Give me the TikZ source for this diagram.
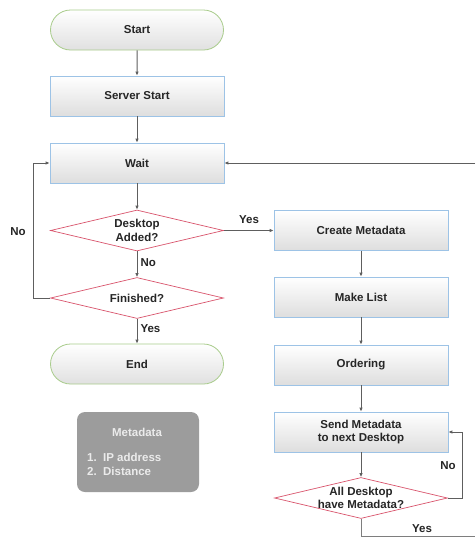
\documentclass[tikz,border=0pt]{standalone}
\usepackage{fontspec}
\setmainfont{Liberation Sans}
\usetikzlibrary{shapes.geometric,shapes.misc,arrows.meta}
\definecolor{termline}{HTML}{A9CC8C}
\definecolor{boxline}{HTML}{9DC3E6}
\definecolor{dialine}{HTML}{D9546C}
\definecolor{conn}{HTML}{5E5E5E}
\definecolor{metafill}{HTML}{9C9C9C}
\tikzset{
  base/.style={font=\bfseries\fontsize{11.5}{13.5}\selectfont, text=black!85, align=center, inner sep=0pt},
  term/.style={base, rounded rectangle, minimum width=173pt, minimum height=40pt, draw=termline, line width=0.8pt, top color=white, bottom color=black!12},
  proc/.style={base, rectangle, minimum width=174pt, minimum height=40pt, draw=boxline, line width=0.7pt, top color=white, bottom color=black!13},
  deci/.style={diamond, aspect=4.2, inner sep=0pt, minimum width=173pt, minimum height=41pt, draw=dialine, line width=0.7pt, fill=white},
  conn/.style={draw=conn, line width=1pt, -{Latex[length=4pt,width=3.5pt]}},
  plain/.style={draw=conn!80, line width=1pt},
  lbl/.style={font=\bfseries\fontsize{11.5}{13.5}\selectfont, text=black!85, inner sep=0pt},
}
\begin{document}
\begin{tikzpicture}[x=1pt,y=-1pt]
\useasboundingbox (0,0) rectangle (475,539);
\fill[white] (0,0) rectangle (475,539);
% left column
\node[term] (start) at (137,30) {Start};
\node[proc] (server) at (137,96) {Server Start};
\node[proc] (wait) at (137,163) {Wait};
\node[deci] (added) at (137,230.5) {};
\node[base] (addedt) at (added) {Desktop\\Added?};
\node[deci] (fin) at (137,298) {};
\node[base] (fint) at (fin) {Finished?};
\node[term] (end) at (137,364) {End};
% right column
\node[proc] (create) at (361,230.5) {Create Metadata};
\node[proc] (list) at (361,297) {Make List};
\node[proc] (order) at (361,365) {Ordering};
\node[proc] (send) at (361,432) {Send Metadata\\to next Desktop};
\node[deci] (all) at (361,498) {};
\node[base] (allt) at (all) {All Desktop\\have Metadata?};
% metadata box
\node[rounded corners=8pt, fill=metafill, minimum width=122pt, minimum height=80pt] (meta) at (138,452) {};
\node[lbl, text=white!92!black] (metat) at (137,432) {Metadata};
\node[lbl, text=white!92!black, align=left, anchor=north west] (metal) at (87,453) {1.\ \ IP address\\2.\ \ Distance};
% coordinates
\coordinate (rtop) at (475,163);
\coordinate (rbot) at (475,536);
\coordinate (lc) at (33,298);
\coordinate (lw) at (33,163);
\coordinate (nr) at (462,498);
\coordinate (ns) at (462,432);
\coordinate (yb) at (361,536);
% connectors
\draw[conn] (start) -- (server);
\draw[conn] (server) -- (wait);
\draw[conn] (wait) -- (added);
\draw[conn] (added) -- node[lbl, right=3pt, pos=0.45] {No} (fin);
\draw[conn] (fin) -- node[lbl, right=3pt, pos=0.4] {Yes} (end);
\draw[conn] (fin.west) -- (lc) -- (lw) -- (wait.west);
\node[lbl] (nol) at (18,232) {No};
\draw[conn] (rtop) -- (wait.east);
\draw[conn] (added.east) -- (create.west);
\node[lbl] (yesl) at (249,220) {Yes};
\draw[conn] (create) -- (list);
\draw[conn] (list) -- (order);
\draw[conn] (order) -- (send);
\draw[conn] (send) -- (all);
\draw[conn] (all.east) -- (nr) -- (ns) -- (send.east);
\node[lbl] (nor) at (448,466) {No};
\draw[plain] (all.south) -- (yb) -- (rbot);
\node[lbl] (yesr) at (422,529) {Yes};
\end{tikzpicture}
\end{document}
